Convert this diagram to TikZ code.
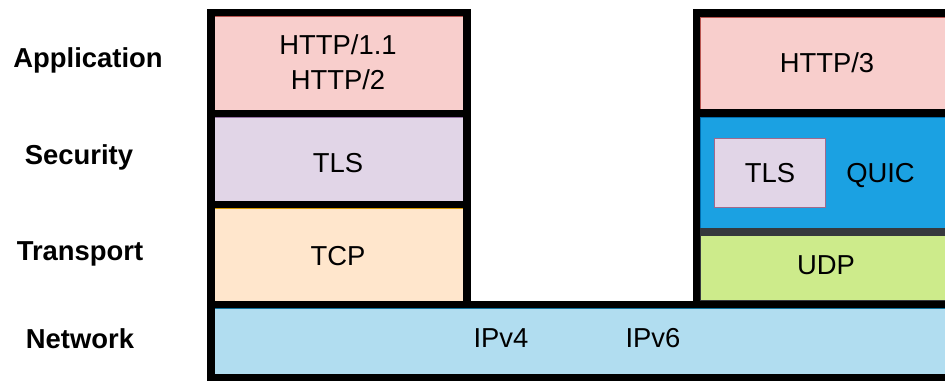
\documentclass[tikz,border=0pt]{standalone}
\usepackage{fontspec}
\setmainfont{Liberation Sans}
\usetikzlibrary{positioning}
\definecolor{appred}{HTML}{F8CECC}
\definecolor{appredline}{HTML}{B85450}
\definecolor{seclilac}{HTML}{E1D5E7}
\definecolor{seclilacline}{HTML}{9673A6}
\definecolor{tcppeach}{HTML}{FFE6CC}
\definecolor{tcppeachline}{HTML}{D79B00}
\definecolor{netblue}{HTML}{B1DDF0}
\definecolor{netblueline}{HTML}{10739E}
\definecolor{quicblue}{HTML}{1BA1E2}
\definecolor{quicblueline}{HTML}{006EAF}
\definecolor{udpgreen}{HTML}{CDEB8B}
\definecolor{darkgrey}{HTML}{36393D}

\begin{document}
\begin{tikzpicture}[x=0.02cm, y=-0.02cm,
    stackline/.style={line width=4.2pt, line join=miter},
    layertext/.style={font=\fontsize{15.6}{19.8}\selectfont, anchor=base, inner sep=0pt},
    layername/.style={layertext, font=\fontsize{15.6}{19.8}\selectfont\bfseries}]
    \useasboundingbox (0,0) rectangle (945,381);
    \clip (0,0) rectangle (945,381);

    % layer fills
    \filldraw[fill=appred, draw=appredline] (214.5,16) rectangle (463.5,110);
    \filldraw[fill=seclilac, draw=seclilacline] (214.5,117) rectangle (463.5,201);
    \filldraw[fill=tcppeach, draw=tcppeachline] (214.5,208) rectangle (463.5,301);
    \filldraw[fill=netblue, draw=netblueline] (214.5,308) rectangle (960,374);
    \filldraw[fill=appred, draw=appredline] (700,17) rectangle (960,109.5);
    \filldraw[fill=quicblue, draw=quicblueline] (700,117) rectangle (960,228);
    \filldraw[fill=udpgreen, draw=darkgrey] (700,235) rectangle (960,300);
    \filldraw[fill=seclilac, draw=seclilacline!70!appredline] (714,138) rectangle (825,207);
    \draw[stackline, darkgrey, line width=3.6pt] (698,231.5) -- (960,231.5);

    % black frames
    \draw[stackline] (211,385) -- (211,12.5) -- (467,12.5) -- (467,304.5);
    \draw[stackline] (211,113.5) -- (467,113.5);
    \draw[stackline] (211,204.5) -- (467,204.5);
    \draw[stackline] (211,304.5) -- (960,304.5);
    \draw[stackline] (211,377.5) -- (960,377.5);
    \draw[stackline] (696.5,304.5) -- (696.5,13) -- (960,13);
    \draw[stackline] (696.5,113) -- (960,113);

    % layer names
    \node[layername] (application) at (88,68) {Application};
    \node[layername] (security) at (79,165) {Security};
    \node[layername] (transport) at (80,260) {Transport};
    \node[layername] (network) at (80,348) {Network};

    % protocols
    \node[layertext, anchor=center, align=center] (http) at (338,62.5) {HTTP/1.1\\HTTP/2};
    \node[layertext] (tls) at (338,173) {TLS};
    \node[layertext] (tcp) at (338,265) {TCP};
    \node[layertext] (ipv4) at (501,347) {IPv4};
    \node[layertext] (ipv6) at (653,347) {IPv6};
    \node[layertext] (httpthree) at (827,73) {HTTP/3};
    \node[layertext] (quictls) at (770,183) {TLS};
    \node[layertext] (quic) at (880.5,183) {QUIC};
    \node[layertext] (udp) at (826,275) {UDP};
\end{tikzpicture}
\end{document}
